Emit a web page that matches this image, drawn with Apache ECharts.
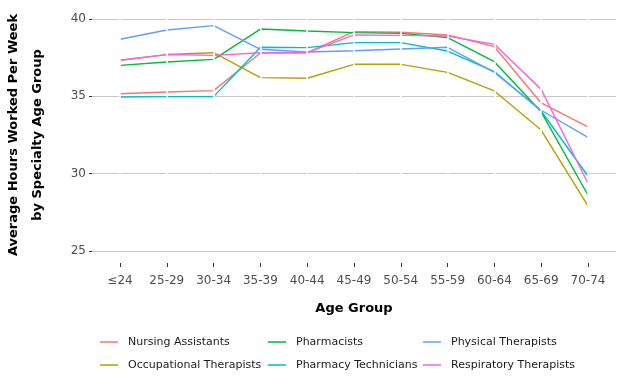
<!DOCTYPE html>
<html>
<head>
<meta charset="utf-8">
<script src="https://cdn.jsdelivr.net/npm/echarts@6/dist/echarts.min.js"></script>
<style>html,body{margin:0;padding:0;background:#fff}#c{width:624px;height:384px}</style>
</head>
<body>
<div id="c"></div>
<script>
const categories = ['≤24','25-29','30-34','35-39','40-44','45-49','50-54','55-59','60-64','65-69','70-74'];
const seriesNames = ['Nursing Assistants','Occupational Therapists','Pharmacists','Pharmacy Technicians','Physical Therapists','Respiratory Therapists'];
const nursingAssistants      = [35.17,35.28,35.37,37.80,37.82,39.18,39.14,38.97,38.21,34.57,33.02];
const occupationalTherapists = [37.33,37.70,37.82,36.21,36.17,37.07,37.07,36.55,35.35,32.82,27.91];
const pharmacists            = [37.00,37.22,37.39,39.35,39.22,39.12,39.07,38.80,37.24,34.00,28.62];
const pharmacyTechnicians    = [34.96,34.98,34.98,38.17,38.15,38.47,38.47,37.93,36.60,34.05,29.85];
const physicalTherapists     = [38.69,39.29,39.57,38.04,37.87,37.95,38.06,38.17,36.55,34.10,32.35];
const respiratoryTherapists  = [37.33,37.70,37.65,37.82,37.82,38.97,38.94,38.90,38.36,35.45,29.38];
const yTicks = [25,30,35,40];

const values = [nursingAssistants,occupationalTherapists,pharmacists,pharmacyTechnicians,physicalTherapists,respiratoryTherapists];
const colors = ['#F8766D','#B79F00','#00BA38','#00BFC4','#619CFF','#F564E3'];
const FONT = 'DejaVu Sans';

const chart = echarts.init(document.getElementById('c'), null, {renderer:'canvas'});

const series = [{
  type:'line', name:'_grid', data:[], silent:true, z:1,
  markLine:{silent:true, symbol:'none', label:{show:false},
    lineStyle:{color:'#ffffff', width:1.6, type:'solid'},
    data: categories.map((c,i)=>({xAxis:i}))}
}];
values.forEach((v,k)=>{
  series.push({
    type:'line', name:seriesNames[k], z:2,
    data: v.map((y,i)=>[i,y]),
    showSymbol:false, symbol:'none',
    lineStyle:{color:colors[k], width:1.4},
    itemStyle:{color:colors[k]},
    emphasis:{disabled:true}
  });
});

function legendCol(left, names){
  return {
    orient:'vertical', left:left, top:330, itemWidth:18, itemHeight:1.5, itemGap:9,
    icon:'rect', data:names, selectedMode:false,
    textStyle:{fontFamily:FONT, fontSize:11, color:'#1a1a1a', lineHeight:14, padding:[0,0,0,5]}
  };
}

chart.setOption({
  animation:false,
  backgroundColor:'#ffffff',
  color:colors,
  grid:[
    {left:92, right:8, top:19, bottom:133, containLabel:false},
    {left:96.6, right:12.6, top:19, bottom:133, containLabel:false}
  ],
  xAxis:[{
    type:'value', min:-0.6, max:10.6, offset:12, gridIndex:0,
    axisLine:{show:false, onZero:false},
    axisTick:{show:false},
    axisLabel:{show:false},
    splitLine:{show:false},
    name:'Age Group', nameLocation:'middle', nameGap:39,
    nameTextStyle:{fontFamily:FONT, fontSize:13, fontWeight:'bold', color:'#000000'}
  },{
    type:'category', data:categories, gridIndex:1, offset:12, boundaryGap:true,
    axisLine:{show:false, onZero:false},
    axisTick:{show:true, alignWithLabel:true, length:4, lineStyle:{color:'#333333'}},
    axisLabel:{show:true, interval:0, margin:12, fontFamily:FONT, fontSize:12, color:'#4D4D4D'},
    splitLine:{show:false}
  }],
  yAxis:[{
    type:'value', min:yTicks[0], max:yTicks[yTicks.length-1], interval:5, gridIndex:0,
    axisLine:{show:false, onZero:false},
    axisTick:{show:true, length:3, lineStyle:{color:'#333333'}},
    axisLabel:{margin:6, fontFamily:FONT, fontSize:12, color:'#4D4D4D'},
    splitLine:{show:true, lineStyle:{color:'#C8C8C8', width:1.2}}
  },{
    type:'value', gridIndex:1, show:false, min:0, max:1
  }],
  legend:[
    legendCol(95,[seriesNames[0],seriesNames[1]]),
    legendCol(263,[seriesNames[2],seriesNames[3]]),
    legendCol(418,[seriesNames[4],seriesNames[5]])
  ],
  graphic:[{
    type:'text', x:26, y:135, rotation:Math.PI/2,
    style:{text:'Average Hours Worked Per Week\nby Specialty Age Group', fontFamily:FONT, fontSize:13,
      fontWeight:'bold', fill:'#000000', align:'center', verticalAlign:'middle', lineHeight:24}
  }],
  series:series
});
</script>
</body>
</html>
